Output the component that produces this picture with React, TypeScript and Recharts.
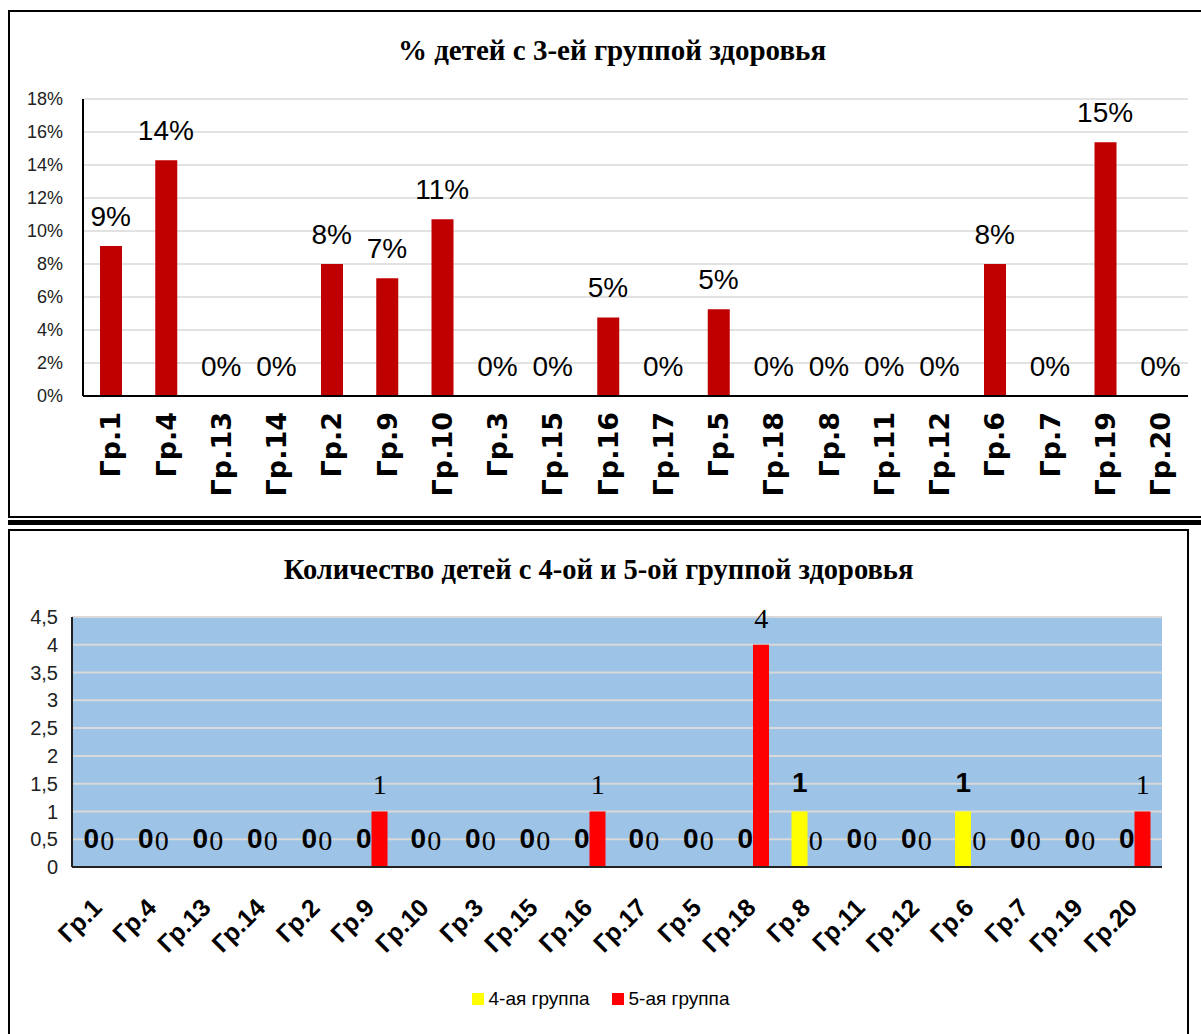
import { ComposedChart, Bar, Line, XAxis, YAxis, CartesianGrid, LabelList, Legend } from 'recharts'

const groups = ['Гр.1', 'Гр.4', 'Гр.13', 'Гр.14', 'Гр.2', 'Гр.9', 'Гр.10', 'Гр.3', 'Гр.15', 'Гр.16', 'Гр.17', 'Гр.5', 'Гр.18', 'Гр.8', 'Гр.11', 'Гр.12', 'Гр.6', 'Гр.7', 'Гр.19', 'Гр.20']

// % of children with health group 3
const group3Pct = [9.09, 14.29, 0, 0, 8.0, 7.14, 10.71, 0, 0, 4.76, 0, 5.26, 0, 0, 0, 0, 8.0, 0, 15.38, 0]

// number of children with health groups 4 and 5
const group4Count = [0, 0, 0, 0, 0, 0, 0, 0, 0, 0, 0, 0, 0, 1, 0, 0, 1, 0, 0, 0]
const group5Count = [0, 0, 0, 0, 0, 1, 0, 0, 0, 1, 0, 0, 4, 0, 0, 0, 0, 0, 0, 1]

const pctTicks = [0, 2, 4, 6, 8, 10, 12, 14, 16, 18]
const countTicks = [0, 0.5, 1, 1.5, 2, 2.5, 3, 3.5, 4, 4.5]

const topData = groups.map((name, i) => ({ name, value: group3Pct[i] }))
const bottomData = groups.map((name, i) => ({ name, g4: group4Count[i], g5: group5Count[i] }))

const SANS = '"Liberation Sans", Arial, sans-serif'
const SERIF = '"Liberation Serif", "Times New Roman", serif'

function TopTick({ x, y, payload }: any) {
  return (
    <text
      transform={`translate(${x},${y}) rotate(-90)`}
      textAnchor="end"
      dy="0.36em"
      fontFamily='"DejaVu Sans", sans-serif'
      fontWeight="bold"
      fontSize={27}
      fill="#000"
    >
      {payload.value}
    </text>
  )
}

function BottomTick({ x, y, payload }: any) {
  return (
    <text
      transform={`translate(${x - 2},${y + 28}) rotate(-45)`}
      textAnchor="end"
      dy="0.35em"
      fontFamily={SANS}
      fontWeight="bold"
      fontSize={25}
      fill="#000"
    >
      {payload.value}
    </text>
  )
}

// only the two bar series go in the legend
function LegendContent({ payload }: any) {
  const items = (payload || []).filter((p: any) => p.type !== 'none')
  return (
    <div style={{ display: 'flex', justifyContent: 'center', alignItems: 'center', height: 30, gap: 22 }}>
      {items.map((p: any) => (
        <div key={p.value} style={{ display: 'flex', alignItems: 'center', gap: 5 }}>
          <span style={{ width: 12, height: 12, background: p.color, display: 'inline-block' }} />
          <span style={{ fontFamily: SANS, fontSize: 19, color: '#000' }}>{p.value}</span>
        </div>
      ))}
    </div>
  )
}

export default function App() {
  return (
    <div style={{ position: 'absolute', left: 0, top: 0, width: 1201, height: 1034, overflow: 'hidden', background: '#fff' }}>
      <div style={{ position: 'absolute', left: 8, top: 10, width: 1210, height: 508, border: '2px solid #000', boxSizing: 'border-box' }} />
      <div style={{ position: 'absolute', left: 8, top: 520, width: 1200, height: 5, background: '#000' }} />
      <div style={{ position: 'absolute', left: 8, top: 529, width: 1181, height: 520, border: '2px solid #000', boxSizing: 'border-box' }} />

      <div style={{ position: 'absolute', left: 0, top: 32, width: 1224, textAlign: 'center', fontFamily: SERIF, fontWeight: 'bold', fontSize: 29, lineHeight: '36px' }}>
        % детей с 3-ей группой здоровья
      </div>
      <div style={{ position: 'absolute', left: 0, top: 552, width: 1197, textAlign: 'center', fontFamily: SERIF, fontWeight: 'bold', fontSize: 28.5, lineHeight: '36px' }}>
        Количество детей с 4-ой и 5-ой группой здоровья
      </div>

      <div style={{ position: 'absolute', left: 0, top: 0 }}>
        <ComposedChart width={1201} height={517} data={topData} margin={{ top: 99, right: 13, left: 23, bottom: 21 }} barSize={22}>
          <CartesianGrid vertical={false} stroke="#D9D9D9" strokeWidth={1.5} />
          <XAxis dataKey="name" interval={0} height={100} tickLine={false} tickSize={6} tickMargin={10} axisLine={{ stroke: '#000', strokeWidth: 2 }} tick={<TopTick />} />
          <XAxis xAxisId="top" dataKey="name" orientation="top" height={0} tick={false} tickLine={false} axisLine={{ stroke: '#000', strokeWidth: 2 }} />
          <YAxis
            width={60}
            domain={[0, 18]}
            ticks={pctTicks}
            interval={0}
            tickFormatter={(v) => `${v}%`}
            tickLine={false}
            tickMargin={14}
            axisLine={{ stroke: '#000', strokeWidth: 2 }}
            tick={{ fontFamily: SANS, fontSize: 18, fill: '#222' }}
          />
          <YAxis yAxisId="right" orientation="right" width={0} tick={false} tickLine={false} axisLine={{ stroke: '#000', strokeWidth: 2 }} />
          <Bar dataKey="value" fill="#C00000" isAnimationActive={false} />
          <Line dataKey="value" stroke="none" dot={false} activeDot={false} legendType="none" isAnimationActive={false}>
            <LabelList
              dataKey="value"
              position="top"
              offset={20}
              formatter={(v: any) => `${Math.round(Number(v))}%`}
              fontFamily={SANS}
              fontSize={28}
              fill="#000"
            />
          </Line>
        </ComposedChart>
      </div>

      <div style={{ position: 'absolute', left: 0, top: 531 }}>
        <ComposedChart width={1201} height={503} data={bottomData} margin={{ top: 86, right: 39, left: 17, bottom: 20 }} barSize={16} barGap={0}>
          <CartesianGrid vertical={false} fill="#9DC3E6" fillOpacity={1} stroke="#D9D9D9" strokeWidth={2} />
          <XAxis dataKey="name" interval={0} height={117} tickLine={false} axisLine={{ stroke: '#222', strokeWidth: 2 }} tick={<BottomTick />} />
          <XAxis xAxisId="top" dataKey="name" orientation="top" height={0} tick={false} tickLine={false} axisLine={{ stroke: '#222', strokeWidth: 2 }} />
          <YAxis
            width={55}
            domain={[0, 4.5]}
            ticks={countTicks}
            interval={0}
            tickFormatter={(v) => String(v).replace('.', ',')}
            tickLine={false}
            tickMargin={8}
            axisLine={{ stroke: '#222', strokeWidth: 2 }}
            tick={{ fontFamily: SANS, fontSize: 20, fill: '#222' }}
          />
          <YAxis yAxisId="right" orientation="right" width={0} tick={false} tickLine={false} axisLine={{ stroke: '#222', strokeWidth: 2 }} />
          <Legend verticalAlign="bottom" content={<LegendContent />} wrapperStyle={{ left: 0, width: 1201, height: 30 }} />
          <Bar dataKey="g4" name="4-ая группа" fill="#FFFF00" isAnimationActive={false} />
          <Bar dataKey="g5" name="5-ая группа" fill="#FF0000" isAnimationActive={false} />
          <Line dataKey="g4" stroke="none" dot={false} activeDot={false} legendType="none" isAnimationActive={false}>
            <LabelList dataKey="g4" position="top" offset={19} dx={-8} fontFamily={SANS} fontWeight="bold" fontSize={28} fill="#000" />
          </Line>
          <Line dataKey="g5" stroke="none" dot={false} activeDot={false} legendType="none" isAnimationActive={false}>
            <LabelList dataKey="g5" position="top" offset={17} dx={8} fontFamily={SERIF} fontSize={28} fill="#000" />
          </Line>
        </ComposedChart>
      </div>
    </div>
  )
}
